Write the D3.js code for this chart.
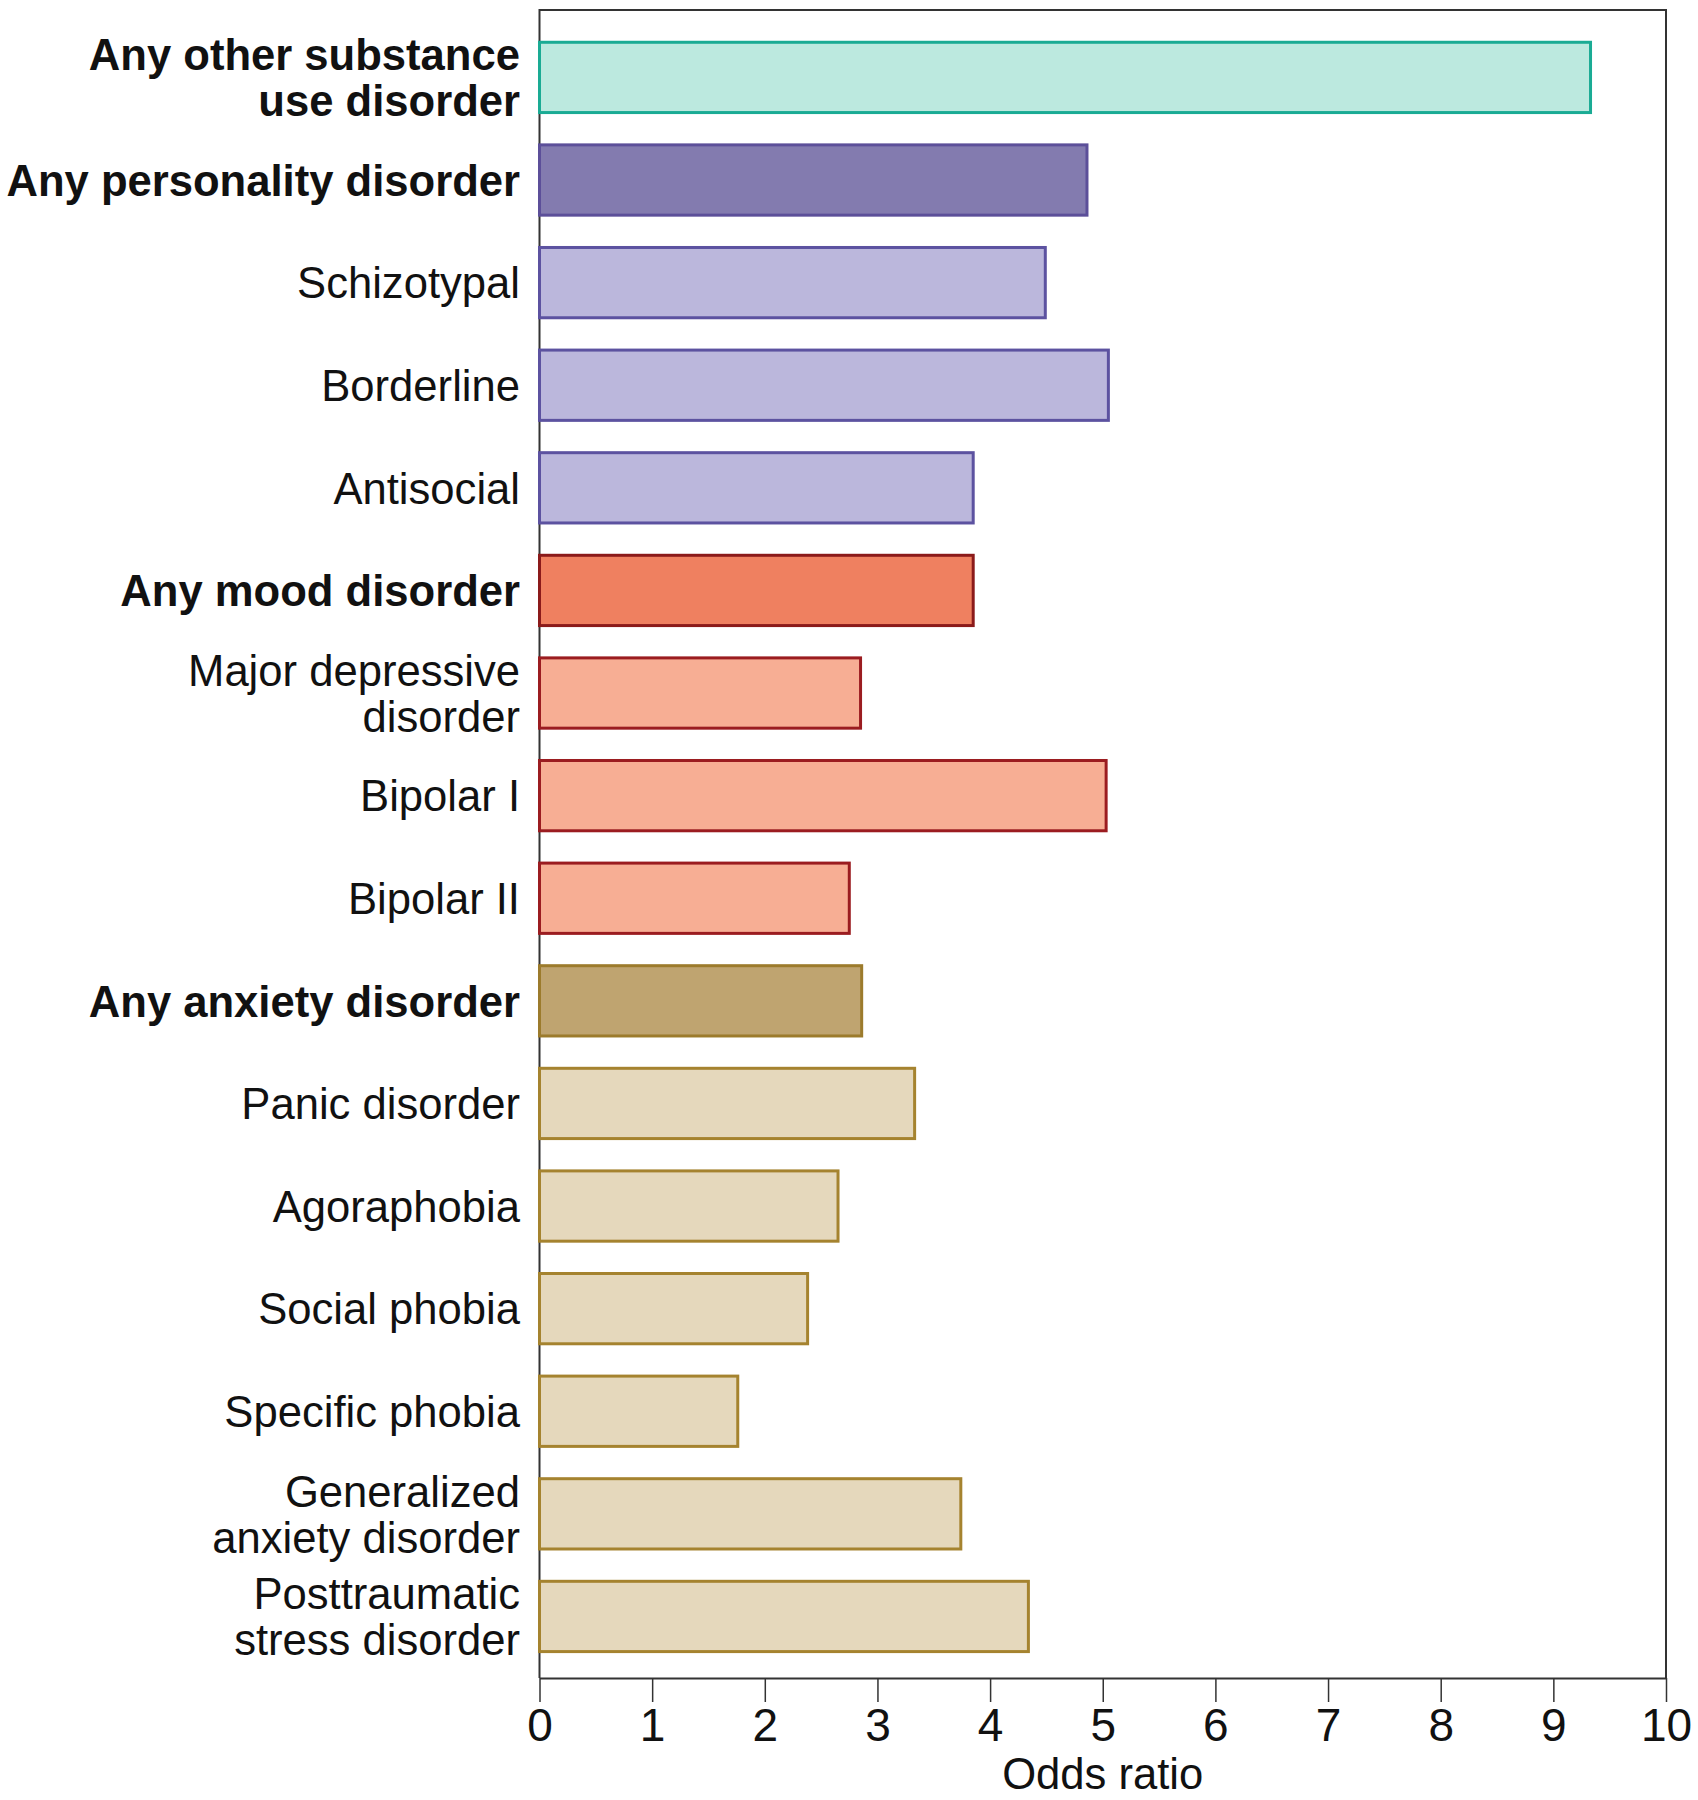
<!DOCTYPE html>
<html>
<head>
<meta charset="utf-8">
<script src="https://cdn.jsdelivr.net/npm/d3@7"></script>
<style>
  html, body { margin: 0; padding: 0; background: #fff; }
  svg { display: block; font-family: "Liberation Sans", Arial, Helvetica, sans-serif; }
</style>
</head>
<body>
<svg id="chart" width="1698" height="1800"></svg>
<script>
// ---- Data ----
const categories = [
  "Any other substance\nuse disorder",
  "Any personality disorder",
  "Schizotypal",
  "Borderline",
  "Antisocial",
  "Any mood disorder",
  "Major depressive\ndisorder",
  "Bipolar I",
  "Bipolar II",
  "Any anxiety disorder",
  "Panic disorder",
  "Agoraphobia",
  "Social phobia",
  "Specific phobia",
  "Generalized\nanxiety disorder",
  "Posttraumatic\nstress disorder"
];
const oddsRatios = [9.33, 4.86, 4.49, 5.05, 3.85, 3.85, 2.85, 5.03, 2.75, 2.86, 3.33, 2.65, 2.38, 1.76, 3.74, 4.34];
const groups = ["substance", "personalityAny", "personality", "personality", "personality",
                "moodAny", "mood", "mood", "mood",
                "anxietyAny", "anxiety", "anxiety", "anxiety", "anxiety", "anxiety", "anxiety"];
const boldLabels = ["Any other substance\nuse disorder", "Any personality disorder", "Any mood disorder", "Any anxiety disorder"];
const xTicks = [0, 1, 2, 3, 4, 5, 6, 7, 8, 9, 10];
const xTitle = "Odds ratio";

const groupFill = {
  substance: "#bce9df", personalityAny: "#837baf", personality: "#bbb7dc",
  moodAny: "#ef8060", mood: "#f7ae94", anxietyAny: "#bfa470", anxiety: "#e5d8bc"
};
const groupStroke = {
  substance: "#1aab94", personalityAny: "#5c4f99", personality: "#5c52a0",
  moodAny: "#8b1a1a", mood: "#9b1c20", anxietyAny: "#9c7b2c", anxiety: "#a5832f"
};

// ---- Layout ----
const plotL = 539.5, plotR = 1666, plotT = 10, plotB = 1678;
const svg = d3.select("#chart");

const x = d3.scaleLinear().domain([0, 10]).range([plotL, plotR]);
const y = d3.scaleBand().domain(categories).range([plotT, plotB])
  .paddingInner(0.315).paddingOuter(0.286).align(0.55);

// frame (left + top + right)
svg.append("path")
  .attr("d", `M${plotL},${plotB}V${plotT}H${plotR}V${plotB}`)
  .attr("fill", "none").attr("stroke", "#333").attr("stroke-width", 2);

// bars
const data = categories.map((c, i) => ({ cat: c, v: oddsRatios[i], g: groups[i] }));
svg.append("g").selectAll("rect").data(data).join("rect")
  .attr("x", x(0))
  .attr("y", d => y(d.cat))
  .attr("width", d => x(d.v) - x(0))
  .attr("height", y.bandwidth())
  .attr("fill", d => groupFill[d.g])
  .attr("stroke", d => groupStroke[d.g])
  .attr("stroke-width", 3);

// x axis
const xAxis = svg.append("g")
  .attr("transform", `translate(0,${plotB})`)
  .call(d3.axisBottom(x).tickValues(xTicks).tickSize(24).tickSizeOuter(0).tickPadding(6).tickFormat(d3.format("d")));
xAxis.select(".domain").attr("stroke", "#333").attr("stroke-width", 2);
xAxis.selectAll(".tick line").attr("stroke", "#333").attr("stroke-width", 1.5);
xAxis.selectAll(".tick text").attr("font-size", 46).attr("fill", "#111")
  .attr("font-family", "'Liberation Sans', Arial, sans-serif");

svg.append("text")
  .attr("x", (plotL + plotR) / 2).attr("y", 1789)
  .attr("text-anchor", "middle").attr("font-size", 43.6).attr("fill", "#111")
  .text(xTitle);

// y labels
const lab = svg.append("g");
categories.forEach(c => {
  const lines = c.split("\n");
  const cy = y(c) + y.bandwidth() / 2;
  const lh = 46;
  const t = lab.append("text")
    .attr("x", 520)
    .attr("text-anchor", "end")
    .attr("font-size", 43.6)
    .attr("fill", "#111")
    .attr("font-weight", boldLabels.includes(c) ? "bold" : "normal");
  lines.forEach((ln, k) => {
    const off = (k - (lines.length - 1) / 2) * lh;
    t.append("tspan").attr("x", 520).attr("y", cy + off).attr("dy", "0.36em").text(ln);
  });
});
</script>
</body>
</html>
